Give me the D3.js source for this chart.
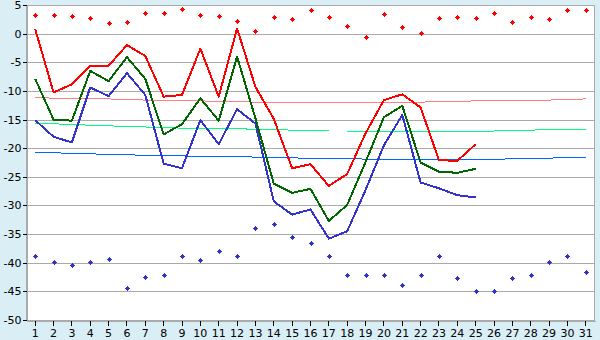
<!DOCTYPE html>
<html>
<head>
<meta charset="utf-8">
<script src="https://cdn.jsdelivr.net/npm/d3@7"></script>
<style>
  html, body { margin: 0; padding: 0; background: #d9eef5; }
  svg { display: block; }
  text { font-family: "DejaVu Sans", Verdana, sans-serif; font-size: 11px; fill: #000; }
</style>
</head>
<body>
<svg id="chart" width="600" height="340"></svg>
<script>
// Days of the month
const days = d3.range(1, 32);

// Daily series (days 1–25)
const redSeries   = [0.8, -10.25, -8.85, -5.65, -5.6, -2.0, -3.9, -11.0, -10.7, -2.6, -11.0, 0.9, -9.3, -14.9, -23.5, -22.8, -26.6, -24.5, -17.4, -11.6, -10.6, -12.9, -22.1, -22.2, -19.3];
const greenSeries = [-7.9, -15.0, -15.2, -6.5, -8.3, -4.1, -7.9, -17.6, -15.8, -11.3, -15.2, -4.0, -14.8, -26.2, -27.8, -27.1, -32.7, -29.9, -22.4, -14.6, -12.6, -22.5, -24.1, -24.3, -23.6];
const blueSeries  = [-15.1, -18.0, -19.0, -9.4, -10.9, -6.9, -10.7, -22.7, -23.5, -15.1, -19.3, -13.2, -15.7, -29.3, -31.6, -30.7, -35.8, -34.5, -27.3, -19.5, -14.2, -26.0, -27.0, -28.2, -28.6];

// Record markers (all days)
const redRecords  = [3.25, 3.25, 3.1, 2.7, 1.8, 2.0, 3.55, 3.55, 4.25, 3.25, 3.1, 2.15, 0.45, 2.9, 2.5, 4.05, 2.9, 1.35, -0.65, 3.35, 1.1, 0.05, 2.7, 2.9, 2.7, 3.55, 2.0, 2.9, 2.5, 4.05, 4.05];
const blueRecords = [-38.9, -39.9, -40.45, -39.9, -39.4, -44.45, -42.55, -42.2, -38.9, -39.6, -38.0, -38.9, -34.0, -33.25, -35.55, -36.6, -38.9, -42.2, -42.2, -42.2, -43.95, -42.2, -38.9, -42.7, -45.0, -45.0, -42.7, -42.2, -39.9, -38.9, -41.7];

// Normal curves (all days)
const pinkNormal  = [-11.2, -11.25, -11.3, -11.35, -11.4, -11.5, -11.6, -11.7, -11.75, -11.75, -11.8, -11.9, -11.95, -12.0, -12.0, -12.0, -12.0, -12.0, -12.0, -12.0, -12.0, -11.95, -11.9, -11.8, -11.75, -11.75, -11.7, -11.65, -11.6, -11.5, -11.4];
const greenNormal = [-15.65, -15.75, -15.85, -16.0, -16.1, -16.2, -16.3, -16.4, -16.5, -16.5, -16.55, -16.6, -16.7, -16.75, -16.85, -16.95, -17.0, -17.0, -17.0, -17.0, -17.0, -17.0, -17.0, -17.0, -17.0, -17.0, -16.9, -16.85, -16.75, -16.7, -16.7];
const blueNormal  = [-20.7, -20.8, -20.9, -21.0, -21.05, -21.15, -21.25, -21.3, -21.35, -21.4, -21.5, -21.5, -21.55, -21.6, -21.7, -21.75, -21.8, -21.85, -21.9, -21.95, -21.95, -21.95, -21.95, -21.95, -21.95, -21.95, -21.85, -21.8, -21.75, -21.6, -21.55];

// Axis ticks
const yTicks = d3.range(-50, 6, 5);

const svg = d3.select("#chart");
const plotLeft = 26, plotRight = 595, plotTop = 5, plotBottom = 320;

const x = d3.scaleBand().domain(days).range([plotLeft, plotRight]).paddingInner(0).paddingOuter(0);
const cx = d => x(d) + x.bandwidth() / 2;
const y = d3.scaleLinear().domain([-50, 5]).range([plotBottom, plotTop]);

// Plot area
svg.append("rect")
  .attr("x", plotLeft).attr("y", plotTop)
  .attr("width", plotRight - plotLeft).attr("height", plotBottom - plotTop)
  .attr("fill", "#fff");

// Horizontal grid
svg.append("g").selectAll("line").data(yTicks).join("line")
  .attr("x1", plotLeft).attr("x2", plotRight)
  .attr("y1", d => Math.round(y(d)) + 0.5).attr("y2", d => Math.round(y(d)) + 0.5)
  .attr("stroke", "#aaa").attr("stroke-width", 1)
  .attr("shape-rendering", "crispEdges");

// Plot frame
svg.append("rect")
  .attr("x", plotLeft + 0.5).attr("y", plotTop + 0.5)
  .attr("width", plotRight - plotLeft - 1).attr("height", plotBottom - plotTop)
  .attr("fill", "none").attr("stroke", "#aaa")
  .attr("shape-rendering", "crispEdges");

// Axes
const yAxis = svg.append("g")
  .attr("transform", `translate(${plotLeft + 0.5},0)`)
  .call(d3.axisLeft(y).tickValues(yTicks).tickSize(4).tickPadding(1).tickFormat(d => String(d)));
yAxis.select(".domain").attr("stroke", "#aaa");
yAxis.selectAll(".tick line").attr("stroke", "#000");
yAxis.selectAll("text").style("font-size", "11px");

const xAxis = svg.append("g")
  .attr("transform", `translate(0,${plotBottom + 0.5})`)
  .call(d3.axisBottom(x).tickSize(5).tickPadding(4).tickSizeOuter(0));
xAxis.select(".domain").attr("stroke", "#aaa");
xAxis.selectAll(".tick line").attr("stroke", "#000");
xAxis.selectAll("text").style("font-size", "11px");
svg.selectAll(".tick line, .domain").attr("shape-rendering", "crispEdges");

// Line drawing helper
function drawLine(values, color, width) {
  const line = d3.line()
    .x((v, i) => cx(days[i]))
    .y(v => y(v));
  svg.append("path")
    .datum(values)
    .attr("d", line)
    .attr("fill", "none")
    .attr("stroke", color)
    .attr("stroke-width", width)
    .attr("stroke-linejoin", "round")
    .attr("shape-rendering", "crispEdges");
}

// Normal curves
drawLine(pinkNormal, "#ff8080", 1);
drawLine(greenNormal, "#00ff80", 1);
drawLine(blueNormal, "#0066ff", 1);

// Daily series
drawLine(blueSeries, "#3333cc", 2);
drawLine(greenSeries, "#006600", 2);
drawLine(redSeries, "#ff0000", 2);

// Record markers: 5-pixel diamonds
const marker = "M-0.5,-2.5h1v1h1v1h1v1h-1v1h-1v1h-1v-1h-1v-1h-1v-1h1v-1h1z";
function drawMarkers(values, color) {
  svg.append("g").selectAll("path").data(values).join("path")
    .attr("d", marker)
    .attr("transform", (v, i) => `translate(${Math.round(cx(days[i])) + 0.5},${Math.round(y(v)) + 0.5})`)
    .attr("fill", color)
    .attr("shape-rendering", "crispEdges");
}
drawMarkers(redRecords, "#ff0000");
drawMarkers(blueRecords, "#3333cc");
</script>
</body>
</html>
